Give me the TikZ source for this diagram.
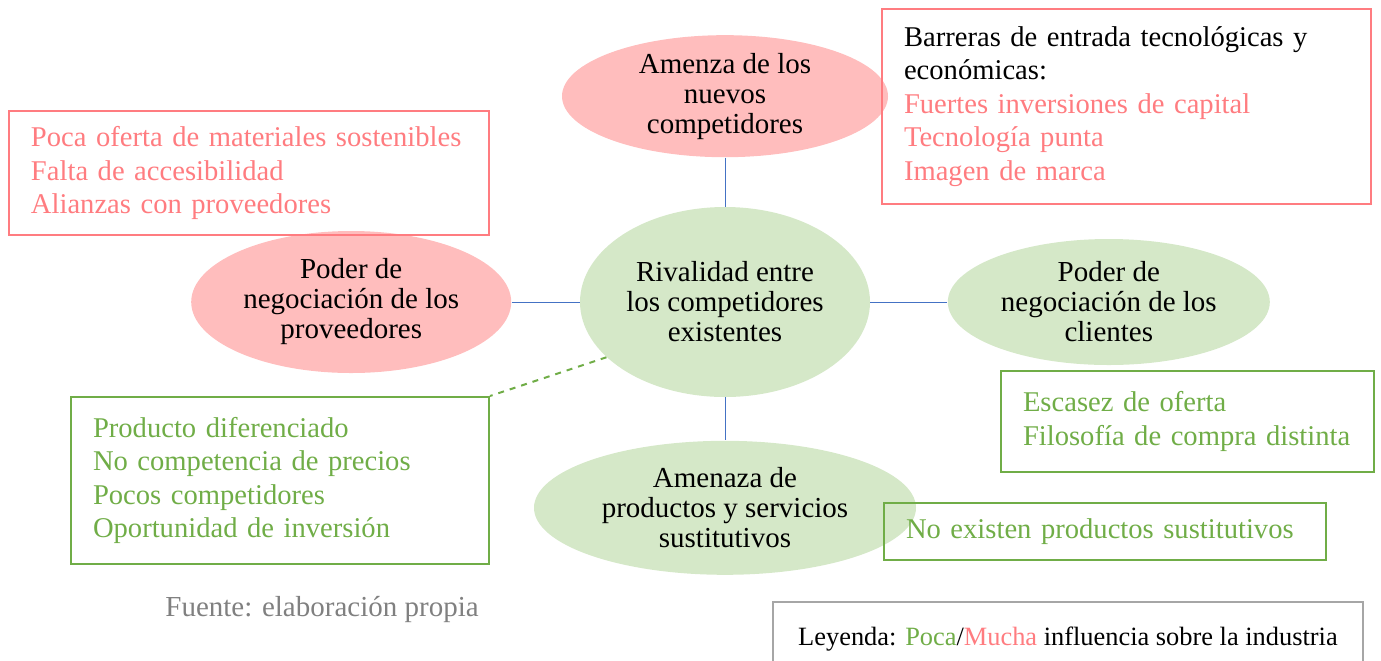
\documentclass[tikz,border=0pt]{standalone}
\usepackage{fontspec}
\setmainfont{Liberation Serif}
\usepackage{xcolor}
\definecolor{colorMucha}{HTML}{FF7C80}
\definecolor{colorMuchaFill}{HTML}{FFBDBD}
\definecolor{colorPoca}{HTML}{70AD47}
\definecolor{colorPocaFill}{HTML}{D5E8C8}
\definecolor{colorLink}{HTML}{4472C4}
\colorlet{colorNota}{black!50}
\colorlet{colorLeyenda}{black!35}
\usetikzlibrary{positioning, shapes.geometric}
\tikzset{
  force/.style={ellipse, inner sep=0pt, align=center, font=\fontsize{14.5}{15}\selectfont},
  mucha/.style={force, fill=colorMuchaFill},
  poca/.style={force, fill=colorPocaFill},
  factbox/.style={draw, line width=1pt, anchor=north west, inner xsep=11pt, inner ysep=0pt, align=left, font=\fontsize{14.3}{16.8}\selectfont},
}

\begin{document}
\begin{tikzpicture}[x=0.5pt, y=-0.5pt]
\useasboundingbox (0,0) rectangle (1381,660);
\node[poca, minimum width=145pt, minimum height=95pt] (rival) at (725,302) {Rivalidad entre\\los competidores\\existentes};
\node[mucha, minimum width=163pt, minimum height=60pt, above=24.5pt of rival] (nuevos) {Amenza de los\\nuevos\\competidores};
\node[mucha, minimum width=160pt, minimum height=71pt, left=34pt of rival] (proveedores) {Poder de\\negociación de los\\proveedores};
\node[poca, minimum width=161pt, minimum height=63pt, right=38.5pt of rival] (clientes) {Poder de\\negociación de los\\clientes};
\node[poca, minimum width=191pt, minimum height=67pt, below=21.5pt of rival] (sustitutos) {Amenaza de\\productos y servicios\\sustitutivos};

\draw [colorLink, thin] (nuevos) edge (rival) (proveedores) edge (rival) (rival) edge (clientes) (rival) edge (sustitutos);

\node[factbox, draw=colorMucha, text=colorMucha, text width=218pt, minimum height=62pt] (boxProv) at (8,110) {Poca oferta de materiales sostenibles\\Falta de accesibilidad\\Alianzas con proveedores};
\node[factbox, draw=colorMucha, text width=222.5pt, minimum height=97.5pt] (boxNuevos) at (881,8) {Barreras de entrada tecnológicas y\\económicas:\\\textcolor{colorMucha}{Fuertes inversiones de capital}\\\textcolor{colorMucha}{Tecnología punta}\\\textcolor{colorMucha}{Imagen de marca}};
\node[factbox, draw=colorPoca, text=colorPoca, text width=187pt, minimum height=83.5pt] (boxRival) at (70,396) {Producto diferenciado\\No competencia de precios\\Pocos competidores\\Oportunidad de inversión};
\node[factbox, draw=colorPoca, text=colorPoca, text width=164.5pt, minimum height=50.5pt] (boxClientes) at (1000,370) {Escasez de oferta\\Filosofía de compra distinta};
\node[factbox, draw=colorPoca, text=colorPoca, text width=199pt, minimum height=28.5pt] (boxSustitutos) at (883,502) {No existen productos sustitutivos};

\draw [colorPoca, line width=1pt, dashed] (rival.205) -- (boxRival.north east);

\node[anchor=west, text=colorNota, inner sep=0pt, font=\fontsize{14.5}{16}\selectfont] (fuente) at (165,609) {Fuente: elaboración propia};
\node[draw=colorLeyenda, line width=1pt, anchor=north west, minimum width=295pt, minimum height=40pt, inner sep=0pt, font=\fontsize{13.2}{15}\selectfont] (leyenda) at (772,601) {\raisebox{5.5pt}{Leyenda: \textcolor{colorPoca}{Poca}/\textcolor{colorMucha}{Mucha} influencia sobre la industria}};
\end{tikzpicture}
\end{document}
